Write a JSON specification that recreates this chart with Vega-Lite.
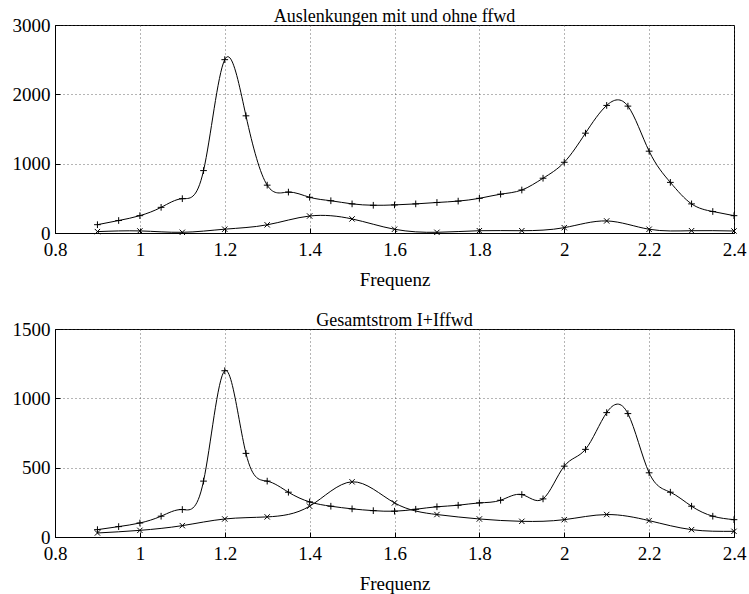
{
  "$schema": "https://vega.github.io/schema/vega-lite/v6.json",
  "padding": {"left": 11, "top": 7, "right": 4, "bottom": 2},
  "background": "white",
  "datasets": {
    "top": [
      {"f": 0.9, "v": 120, "s": "plus"}, {"f": 0.95, "v": 180, "s": "plus"}, {"f": 1.0, "v": 250, "s": "plus"},
      {"f": 1.05, "v": 370, "s": "plus"}, {"f": 1.1, "v": 495, "s": "plus"}, {"f": 1.15, "v": 900, "s": "plus"},
      {"f": 1.2, "v": 2500, "s": "plus"}, {"f": 1.25, "v": 1690, "s": "plus"}, {"f": 1.3, "v": 690, "s": "plus"},
      {"f": 1.35, "v": 590, "s": "plus"}, {"f": 1.4, "v": 515, "s": "plus"}, {"f": 1.45, "v": 465, "s": "plus"},
      {"f": 1.5, "v": 420, "s": "plus"}, {"f": 1.55, "v": 400, "s": "plus"}, {"f": 1.6, "v": 405, "s": "plus"},
      {"f": 1.65, "v": 420, "s": "plus"}, {"f": 1.7, "v": 440, "s": "plus"}, {"f": 1.75, "v": 460, "s": "plus"},
      {"f": 1.8, "v": 500, "s": "plus"}, {"f": 1.85, "v": 560, "s": "plus"}, {"f": 1.9, "v": 620, "s": "plus"},
      {"f": 1.95, "v": 790, "s": "plus"}, {"f": 2.0, "v": 1020, "s": "plus"}, {"f": 2.05, "v": 1440, "s": "plus"},
      {"f": 2.1, "v": 1840, "s": "plus"}, {"f": 2.15, "v": 1830, "s": "plus"}, {"f": 2.2, "v": 1180, "s": "plus"},
      {"f": 2.25, "v": 730, "s": "plus"}, {"f": 2.3, "v": 420, "s": "plus"}, {"f": 2.35, "v": 310, "s": "plus"},
      {"f": 2.4, "v": 250, "s": "plus"},
      {"f": 0.9, "v": 20, "s": "cross"}, {"f": 1.0, "v": 30, "s": "cross"}, {"f": 1.1, "v": 10, "s": "cross"},
      {"f": 1.2, "v": 55, "s": "cross"}, {"f": 1.3, "v": 118, "s": "cross"}, {"f": 1.4, "v": 245, "s": "cross"},
      {"f": 1.5, "v": 203, "s": "cross"}, {"f": 1.6, "v": 54, "s": "cross"}, {"f": 1.7, "v": 10, "s": "cross"},
      {"f": 1.8, "v": 33, "s": "cross"}, {"f": 1.9, "v": 33, "s": "cross"}, {"f": 2.0, "v": 77, "s": "cross"},
      {"f": 2.1, "v": 174, "s": "cross"}, {"f": 2.2, "v": 54, "s": "cross"}, {"f": 2.3, "v": 33, "s": "cross"},
      {"f": 2.4, "v": 29, "s": "cross"}
    ],
    "bottom": [
      {"f": 0.9, "v": 53, "s": "plus"}, {"f": 0.95, "v": 75, "s": "plus"}, {"f": 1.0, "v": 101, "s": "plus"},
      {"f": 1.05, "v": 150, "s": "plus"}, {"f": 1.1, "v": 198, "s": "plus"}, {"f": 1.15, "v": 403, "s": "plus"},
      {"f": 1.2, "v": 1199, "s": "plus"}, {"f": 1.25, "v": 603, "s": "plus"}, {"f": 1.3, "v": 403, "s": "plus"},
      {"f": 1.35, "v": 323, "s": "plus"}, {"f": 1.4, "v": 253, "s": "plus"}, {"f": 1.45, "v": 222, "s": "plus"},
      {"f": 1.5, "v": 203, "s": "plus"}, {"f": 1.55, "v": 190, "s": "plus"}, {"f": 1.6, "v": 186, "s": "plus"},
      {"f": 1.65, "v": 200, "s": "plus"}, {"f": 1.7, "v": 218, "s": "plus"}, {"f": 1.75, "v": 229, "s": "plus"},
      {"f": 1.8, "v": 246, "s": "plus"}, {"f": 1.85, "v": 265, "s": "plus"}, {"f": 1.9, "v": 306, "s": "plus"},
      {"f": 1.95, "v": 275, "s": "plus"}, {"f": 2.0, "v": 511, "s": "plus"}, {"f": 2.05, "v": 632, "s": "plus"},
      {"f": 2.1, "v": 897, "s": "plus"}, {"f": 2.15, "v": 890, "s": "plus"}, {"f": 2.2, "v": 463, "s": "plus"},
      {"f": 2.25, "v": 323, "s": "plus"}, {"f": 2.3, "v": 222, "s": "plus"}, {"f": 2.35, "v": 150, "s": "plus"},
      {"f": 2.4, "v": 125, "s": "plus"},
      {"f": 0.9, "v": 29, "s": "cross"}, {"f": 1.0, "v": 48, "s": "cross"}, {"f": 1.1, "v": 82, "s": "cross"},
      {"f": 1.2, "v": 130, "s": "cross"}, {"f": 1.3, "v": 145, "s": "cross"}, {"f": 1.4, "v": 222, "s": "cross"},
      {"f": 1.5, "v": 398, "s": "cross"}, {"f": 1.6, "v": 246, "s": "cross"}, {"f": 1.7, "v": 162, "s": "cross"},
      {"f": 1.8, "v": 130, "s": "cross"}, {"f": 1.9, "v": 113, "s": "cross"}, {"f": 2.0, "v": 125, "s": "cross"},
      {"f": 2.1, "v": 162, "s": "cross"}, {"f": 2.2, "v": 118, "s": "cross"}, {"f": 2.3, "v": 53, "s": "cross"},
      {"f": 2.4, "v": 41, "s": "cross"}
    ]
  },
  "config": {
    "font": "Liberation Serif",
    "view": {"stroke": "black", "strokeWidth": 1},
    "axis": {
      "labelFont": "Liberation Serif", "labelFontSize": 19, "labelColor": "black",
      "titleFont": "Liberation Serif", "titleFontSize": 19, "titleFontWeight": "normal", "titleColor": "black",
      "domainColor": "black", "tickColor": "black", "tickSize": -5,
      "gridColor": "#444", "gridDash": [1, 3], "gridOpacity": 1, "gridWidth": 0.8
    },
    "axisX": {"labelPadding": 12, "titlePadding": 11},
    "axisY": {"labelPadding": 10},
    "title": {"font": "Liberation Serif", "fontSize": 18, "fontWeight": "normal", "color": "black", "offset": -10},
    "concat": {"spacing": 21}
  },
  "vconcat": [
    {
      "title": "Auslenkungen mit und ohne ffwd",
      "width": 679, "height": 208,
      "data": {"name": "top"},
      "encoding": {
        "x": {"field": "f", "type": "quantitative", "title": "Frequenz",
              "scale": {"domain": [0.8, 2.4], "nice": false},
              "axis": {"values": [0.8, 1, 1.2, 1.4, 1.6, 1.8, 2, 2.2, 2.4], "format": "~g", "labelFlush": false, "labelFont": "Liberation Serif"}},
        "y": {"field": "v", "type": "quantitative", "title": null,
              "scale": {"domain": [0, 3000], "nice": false},
              "axis": {"values": [0, 1000, 2000, 3000], "format": "d", "labelFlush": false, "labelFont": "Liberation Serif"}}
      },
      "layer": [
        {"mark": {"type": "line", "interpolate": "natural", "color": "black", "strokeWidth": 1},
         "encoding": {"detail": {"field": "s"}}},
        {"mark": {"type": "point", "filled": false, "color": "black", "strokeWidth": 1, "size": 45, "opacity": 1},
         "encoding": {"shape": {"field": "s", "type": "nominal", "legend": null,
           "scale": {"domain": ["plus", "cross"], "range": ["M-1,0L1,0M0,-1L0,1", "M-0.8,-0.8L0.8,0.8M-0.8,0.8L0.8,-0.8"]}}}}
      ]
    },
    {
      "title": "Gesamtstrom I+Iffwd",
      "width": 679, "height": 208,
      "data": {"name": "bottom"},
      "encoding": {
        "x": {"field": "f", "type": "quantitative", "title": "Frequenz",
              "scale": {"domain": [0.8, 2.4], "nice": false},
              "axis": {"values": [0.8, 1, 1.2, 1.4, 1.6, 1.8, 2, 2.2, 2.4], "format": "~g", "labelFlush": false, "labelFont": "Liberation Serif"}},
        "y": {"field": "v", "type": "quantitative", "title": null,
              "scale": {"domain": [0, 1500], "nice": false},
              "axis": {"values": [0, 500, 1000, 1500], "format": "d", "labelFlush": false, "labelFont": "Liberation Serif"}}
      },
      "layer": [
        {"mark": {"type": "line", "interpolate": "natural", "color": "black", "strokeWidth": 1},
         "encoding": {"detail": {"field": "s"}}},
        {"mark": {"type": "point", "filled": false, "color": "black", "strokeWidth": 1, "size": 45, "opacity": 1},
         "encoding": {"shape": {"field": "s", "type": "nominal", "legend": null,
           "scale": {"domain": ["plus", "cross"], "range": ["M-1,0L1,0M0,-1L0,1", "M-0.8,-0.8L0.8,0.8M-0.8,0.8L0.8,-0.8"]}}}}
      ]
    }
  ]
}
